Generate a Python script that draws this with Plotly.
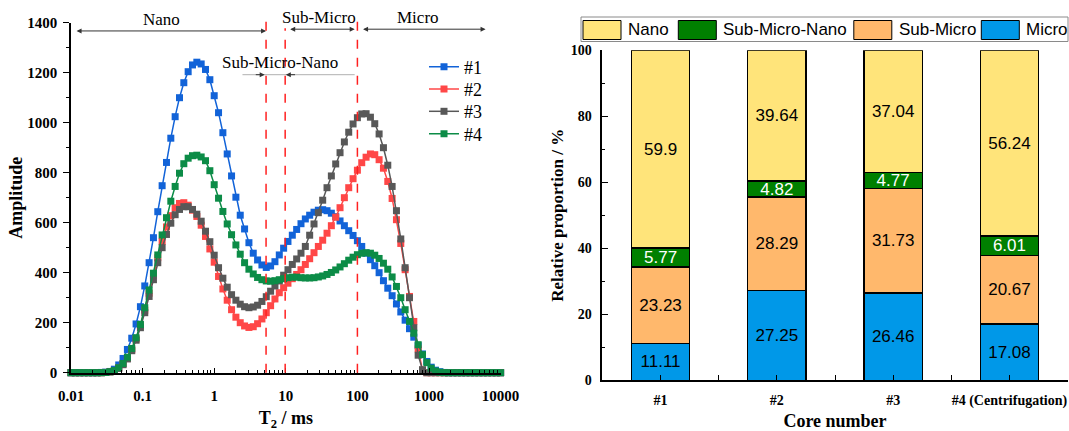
import numpy as np
import plotly.graph_objects as go

# ---------------- data: NMR T2 spectra (left) ----------------
t2_ms = np.logspace(-2, 4, 100)  # T2 sampling grid, ms

amp_1 = [0, 0, 0, 0, 0, 0, 0, 1, 2, 5,
         14, 31, 57, 93, 138, 195, 264, 347, 440, 540,
         644, 748, 841, 938, 1024, 1100, 1160, 1204, 1231, 1242,
         1235, 1213, 1172, 1108, 1040, 960, 875, 787, 702, 630,
         575, 520, 478, 451, 431, 421, 427, 444, 471, 498,
         525, 550, 573, 596, 615, 630, 642, 650, 652, 648,
         638, 624, 607, 588, 568, 549, 528, 505, 478, 452,
         428, 400, 368, 338, 308, 275, 243, 210, 176, 142,
         108, 75, 45, 22, 10, 4, 1, 0, 0, 0,
         0, 0, 0, 0, 0, 0, 0, 0, 0, 0]

amp_2 = [0, 0, 0, 0, 0, 0, 0, 0, 1, 4,
         9, 19, 35, 58, 92, 135, 188, 250, 318, 390,
         460, 525, 583, 628, 660, 677, 680, 670, 650, 625,
         590, 545, 495, 442, 385, 335, 290, 252, 222, 200,
         187, 181, 184, 196, 215, 240, 268, 295, 320, 340,
         358, 376, 393, 412, 433, 456, 480, 505, 530, 558,
         588, 622, 660, 700, 740, 776, 810, 840, 862, 875,
         872, 852, 818, 765, 697, 612, 517, 412, 305, 205,
         95, 10, 0, 0, 0, 0, 0, 0, 0, 0,
         0, 0, 0, 0, 0, 0, 0, 0, 0, 0]

amp_3 = [0, 0, 0, 0, 0, 0, 0, 0, 1, 3,
         8, 17, 32, 55, 88, 130, 180, 240, 305, 372,
         440, 500, 553, 598, 632, 653, 664, 664, 653, 634,
         606, 566, 524, 470, 420, 378, 342, 312, 290, 274,
         264, 260, 263, 270, 285, 304, 326, 347, 367, 390,
         412, 433, 455, 478, 505, 550, 595, 640, 690, 740,
         787, 835, 880, 923, 962, 995, 1020, 1035, 1036, 1022,
         996, 955, 900, 830, 745, 648, 535, 420, 300, 180,
         70, 12, 0, 0, 0, 0, 0, 0, 0, 0,
         0, 0, 0, 0, 0, 0, 0, 0, 0, 0]

amp_4 = [0, 0, 0, 0, 0, 0, 0, 0, 1, 4,
         9, 20, 37, 62, 97, 140, 193, 260, 331, 398,
         471, 551, 620, 686, 745, 798, 836, 858, 868, 870,
         863, 848, 808, 752, 698, 645, 595, 552, 511, 474,
         440, 414, 395, 381, 372, 367, 366, 368, 372, 376,
         380, 382, 382, 380, 379, 379, 380, 383, 387, 393,
         401, 411, 423, 436, 450, 462, 472, 478, 480, 478,
         470, 457, 438, 414, 383, 345, 300, 252, 205, 158,
         112, 72, 40, 18, 7, 2, 0, 0, 0, 0,
         0, 0, 0, 0, 0, 0, 0, 0, 0, 0]

series_names = ["#1", "#2", "#3", "#4"]
series_colors = ["#1263D8", "#FF4747", "#585858", "#0C8C47"]

pore_boundaries_ms = [5.3, 9.8, 100]

x_tick_vals = [0.01, 0.1, 1, 10, 100, 1000, 10000]
x_tick_text = ["0.01", "0.1", "1", "10", "100", "1000", "10000"]

# ---------------- data: relative proportions (right) ----------------
cores = ["#1", "#2", "#3", "#4 (Centrifugation)"]
micro = [11.11, 27.25, 26.46, 17.08]
sub_micro = [23.23, 28.29, 31.73, 20.67]
sub_micro_nano = [5.77, 4.82, 4.77, 6.01]
nano = [59.9, 39.64, 37.04, 56.24]

# ---------------- style ----------------
W, H = 1069, 431
SERIF = "Liberation Serif, Times New Roman, serif"
SANS = "Liberation Sans, Arial, sans-serif"

L_x0, L_x1 = 71 / W, 500.6 / W
L_y0, L_y1 = 1 - 372.7 / H, 1 - 22.7 / H
R_x0, R_x1 = 602.4 / W, 1067.6 / W
R_y0, R_y1 = 1 - 380.3 / H, 1 - 50.3 / H


def left_paper_y(v):
    return L_y0 + (L_y1 - L_y0) * v / 1400.0


fig = go.Figure()

legend_ids = ["legend", "legend2", "legend3", "legend4"]
legend_centers_px = [67, 89.3, 111.6, 134]

for name, color, amp, lid in zip(series_names, series_colors,
                                 [amp_1, amp_2, amp_3, amp_4], legend_ids):
    fig.add_trace(go.Scatter(
        x=t2_ms, y=amp, name=name, mode="lines+markers",
        line=dict(color=color, width=1.5),
        marker=dict(symbol="square", size=7, color=color),
        cliponaxis=False, xaxis="x", yaxis="y", legend=lid,
    ))

bar_colors = {"Micro": "#0098E8", "Sub-Micro": "#FFB86C",
              "Sub-Micro-Nano": "#008000", "Nano": "#FFE47A"}
bar_text_colors = {"Micro": "black", "Sub-Micro": "black",
                   "Sub-Micro-Nano": "white", "Nano": "black"}
bar_series = [("Micro", micro), ("Sub-Micro", sub_micro),
              ("Sub-Micro-Nano", sub_micro_nano), ("Nano", nano)]
x_pos = list(range(len(cores)))

for name, vals in bar_series:
    fig.add_trace(go.Bar(
        x=x_pos, y=vals, name=name, width=0.5,
        marker=dict(color=bar_colors[name], line=dict(color="black", width=1.3)),
        text=[f"{v:g}" for v in vals], textposition="inside",
        insidetextanchor="middle", textangle=0,
        textfont=dict(family=SANS, size=17, color=bar_text_colors[name]),
        xaxis="x2", yaxis="y2", showlegend=False,
    ))

shapes = []
annotations = []

# dashed boundary lines (extend slightly above the axis top)
line_tops = [1430, 1378, 1430]
for b, top in zip(pore_boundaries_ms, line_tops):
    shapes.append(dict(type="line", xref="x", yref="paper", x0=b, x1=b,
                       y0=L_y0, y1=left_paper_y(top),
                       line=dict(color="#FF2020", width=1.5, dash="dash")))

arrow_col = "#333333"
# double-headed range arrows
for xa, xb, yv in [(-1.943, np.log10(5.3), 1367),
                   (1.04, 1.962, 1374),
                   (2.058, 3.79, 1374)]:
    annotations.append(dict(xref="x", yref="y", axref="x", ayref="y",
                            x=xb, y=yv, ax=xa, ay=yv, text="", showarrow=True,
                            arrowhead=2, arrowsize=1, arrowwidth=1,
                            arrowside="end+start", arrowcolor=arrow_col))
# Sub-Micro-Nano pointer line
annotations.append(dict(xref="x", yref="y", axref="x", ayref="y",
                        x=1.962, y=1192, ax=0.374, ay=1192, text="", showarrow=True,
                        arrowhead=0, arrowwidth=1, arrowcolor="#B0B0B0"))
annotations.append(dict(xref="x", yref="y", axref="x", ayref="y",
                        x=0.705, y=1192, ax=0.56, ay=1192, text="", showarrow=True,
                        arrowhead=2, arrowsize=1, arrowwidth=1, arrowcolor=arrow_col))
annotations.append(dict(xref="x", yref="y", axref="x", ayref="y",
                        x=1.0, y=1192, ax=1.15, ay=1192, text="", showarrow=True,
                        arrowhead=2, arrowsize=1, arrowwidth=1, arrowcolor=arrow_col))

for txt, lx, yv in [("Nano", -0.733, 1411), ("Sub-Micro", 1.457, 1421),
                    ("Micro", 2.85, 1422), ("Sub-Micro-Nano", 0.913, 1241)]:
    annotations.append(dict(xref="x", yref="paper", x=lx, y=left_paper_y(yv), text=txt,
                            showarrow=False, xanchor="center", yanchor="middle",
                            font=dict(family=SERIF, size=17, color="black")))

# custom legend for the stacked bars
leg_order = ["Nano", "Sub-Micro-Nano", "Sub-Micro", "Micro"]
sw_x0 = [583, 678.3, 853.8, 981.3]
sw_w = 38
shapes.append(dict(type="rect", xref="paper", yref="paper",
                   x0=581 / W, x1=1068 / W, y0=1 - 41.5 / H, y1=1 - 17 / H,
                   line=dict(color="#8A8A8A", width=1), fillcolor="white"))
for name, x0 in zip(leg_order, sw_x0):
    shapes.append(dict(type="rect", xref="paper", yref="paper",
                       x0=x0 / W, x1=(x0 + sw_w) / W, y0=1 - 39.5 / H, y1=1 - 20.5 / H,
                       line=dict(color="black", width=1), fillcolor=bar_colors[name]))
    annotations.append(dict(xref="paper", yref="paper", x=(x0 + sw_w + 5) / W, y=1 - 30 / H,
                            text=name, showarrow=False, xanchor="left", yanchor="middle",
                            font=dict(family=SANS, size=17, color="black")))

axis_common = dict(showline=True, linecolor="black", linewidth=1.5, showgrid=False,
                   zeroline=False, automargin=False, tickcolor="black", tickwidth=1.2)

minor_x = [m * 10.0 ** e for e in range(-2, 4) for m in range(2, 10)]

legend_layouts = {}
for lid, cy in zip(legend_ids, legend_centers_px):
    legend_layouts[lid] = dict(x=424 / W, y=1 - cy / H, xanchor="left", yanchor="middle",
                               bgcolor="rgba(0,0,0,0)", borderwidth=0,
                               font=dict(family=SERIF, size=18, color="black"))

fig.update_layout(
    width=W, height=H, margin=dict(l=0, r=0, t=0, b=0),
    paper_bgcolor="white", plot_bgcolor="white",
    font=dict(family=SERIF, color="black"),
    barmode="stack",
    uniformtext=dict(minsize=17, mode="show"),
    xaxis=dict(**axis_common, type="log", domain=[L_x0, L_x1], range=[-2, 4], anchor="y",
               tickvals=x_tick_vals, ticktext=x_tick_text, ticks="inside", ticklen=5,
               minor=dict(tickvals=minor_x, ticks="inside", ticklen=3, tickcolor="black"),
               tickfont=dict(family=SERIF, size=15, color="black", weight="bold"),
               ticklabelstandoff=9,
               title=dict(text="T<sub>2</sub> / ms", standoff=10,
                          font=dict(family=SERIF, size=18, color="black", weight="bold"))),
    yaxis=dict(**axis_common, domain=[L_y0, L_y1], range=[0, 1400], anchor="x",
               dtick=200, ticks="outside", ticklen=6,
               minor=dict(dtick=100, ticks="outside", ticklen=3, tickcolor="black"),
               tickfont=dict(family=SERIF, size=15, color="black", weight="bold"),
               ticklabelstandoff=3,
               title=dict(text="Amplitude", standoff=0,
                          font=dict(family=SERIF, size=18, color="black", weight="bold"))),
    xaxis2=dict(**axis_common, domain=[R_x0, R_x1], range=[-0.5, 3.5], anchor="y2",
                tickvals=x_pos, ticktext=cores, ticks="inside", ticklen=6,
                minor=dict(tick0=0.5, dtick=1, ticks="inside", ticklen=6, tickcolor="black"),
                tickfont=dict(family=SERIF, size=14, color="black", weight="bold"),
                ticklabelstandoff=6,
                title=dict(text="Core number", standoff=11,
                           font=dict(family=SERIF, size=18, color="black", weight="bold"))),
    yaxis2=dict(**axis_common, domain=[R_y0, R_y1], range=[0, 100], anchor="x2",
                dtick=20, ticks="inside", ticklen=6,
                minor=dict(dtick=10, ticks="inside", ticklen=3, tickcolor="black"),
                tickfont=dict(family=SERIF, size=14, color="black", weight="bold"),
                ticklabelstandoff=6,
                title=dict(text="Relative proportion / %", standoff=3,
                           font=dict(family=SERIF, size=17, color="black", weight="bold"))),
    shapes=shapes, annotations=annotations,
    **legend_layouts,
)

fig.write_html("out.html", config={"displayModeBar": False},
               post_script="document.body.style.margin='0';document.body.style.padding='0';")
